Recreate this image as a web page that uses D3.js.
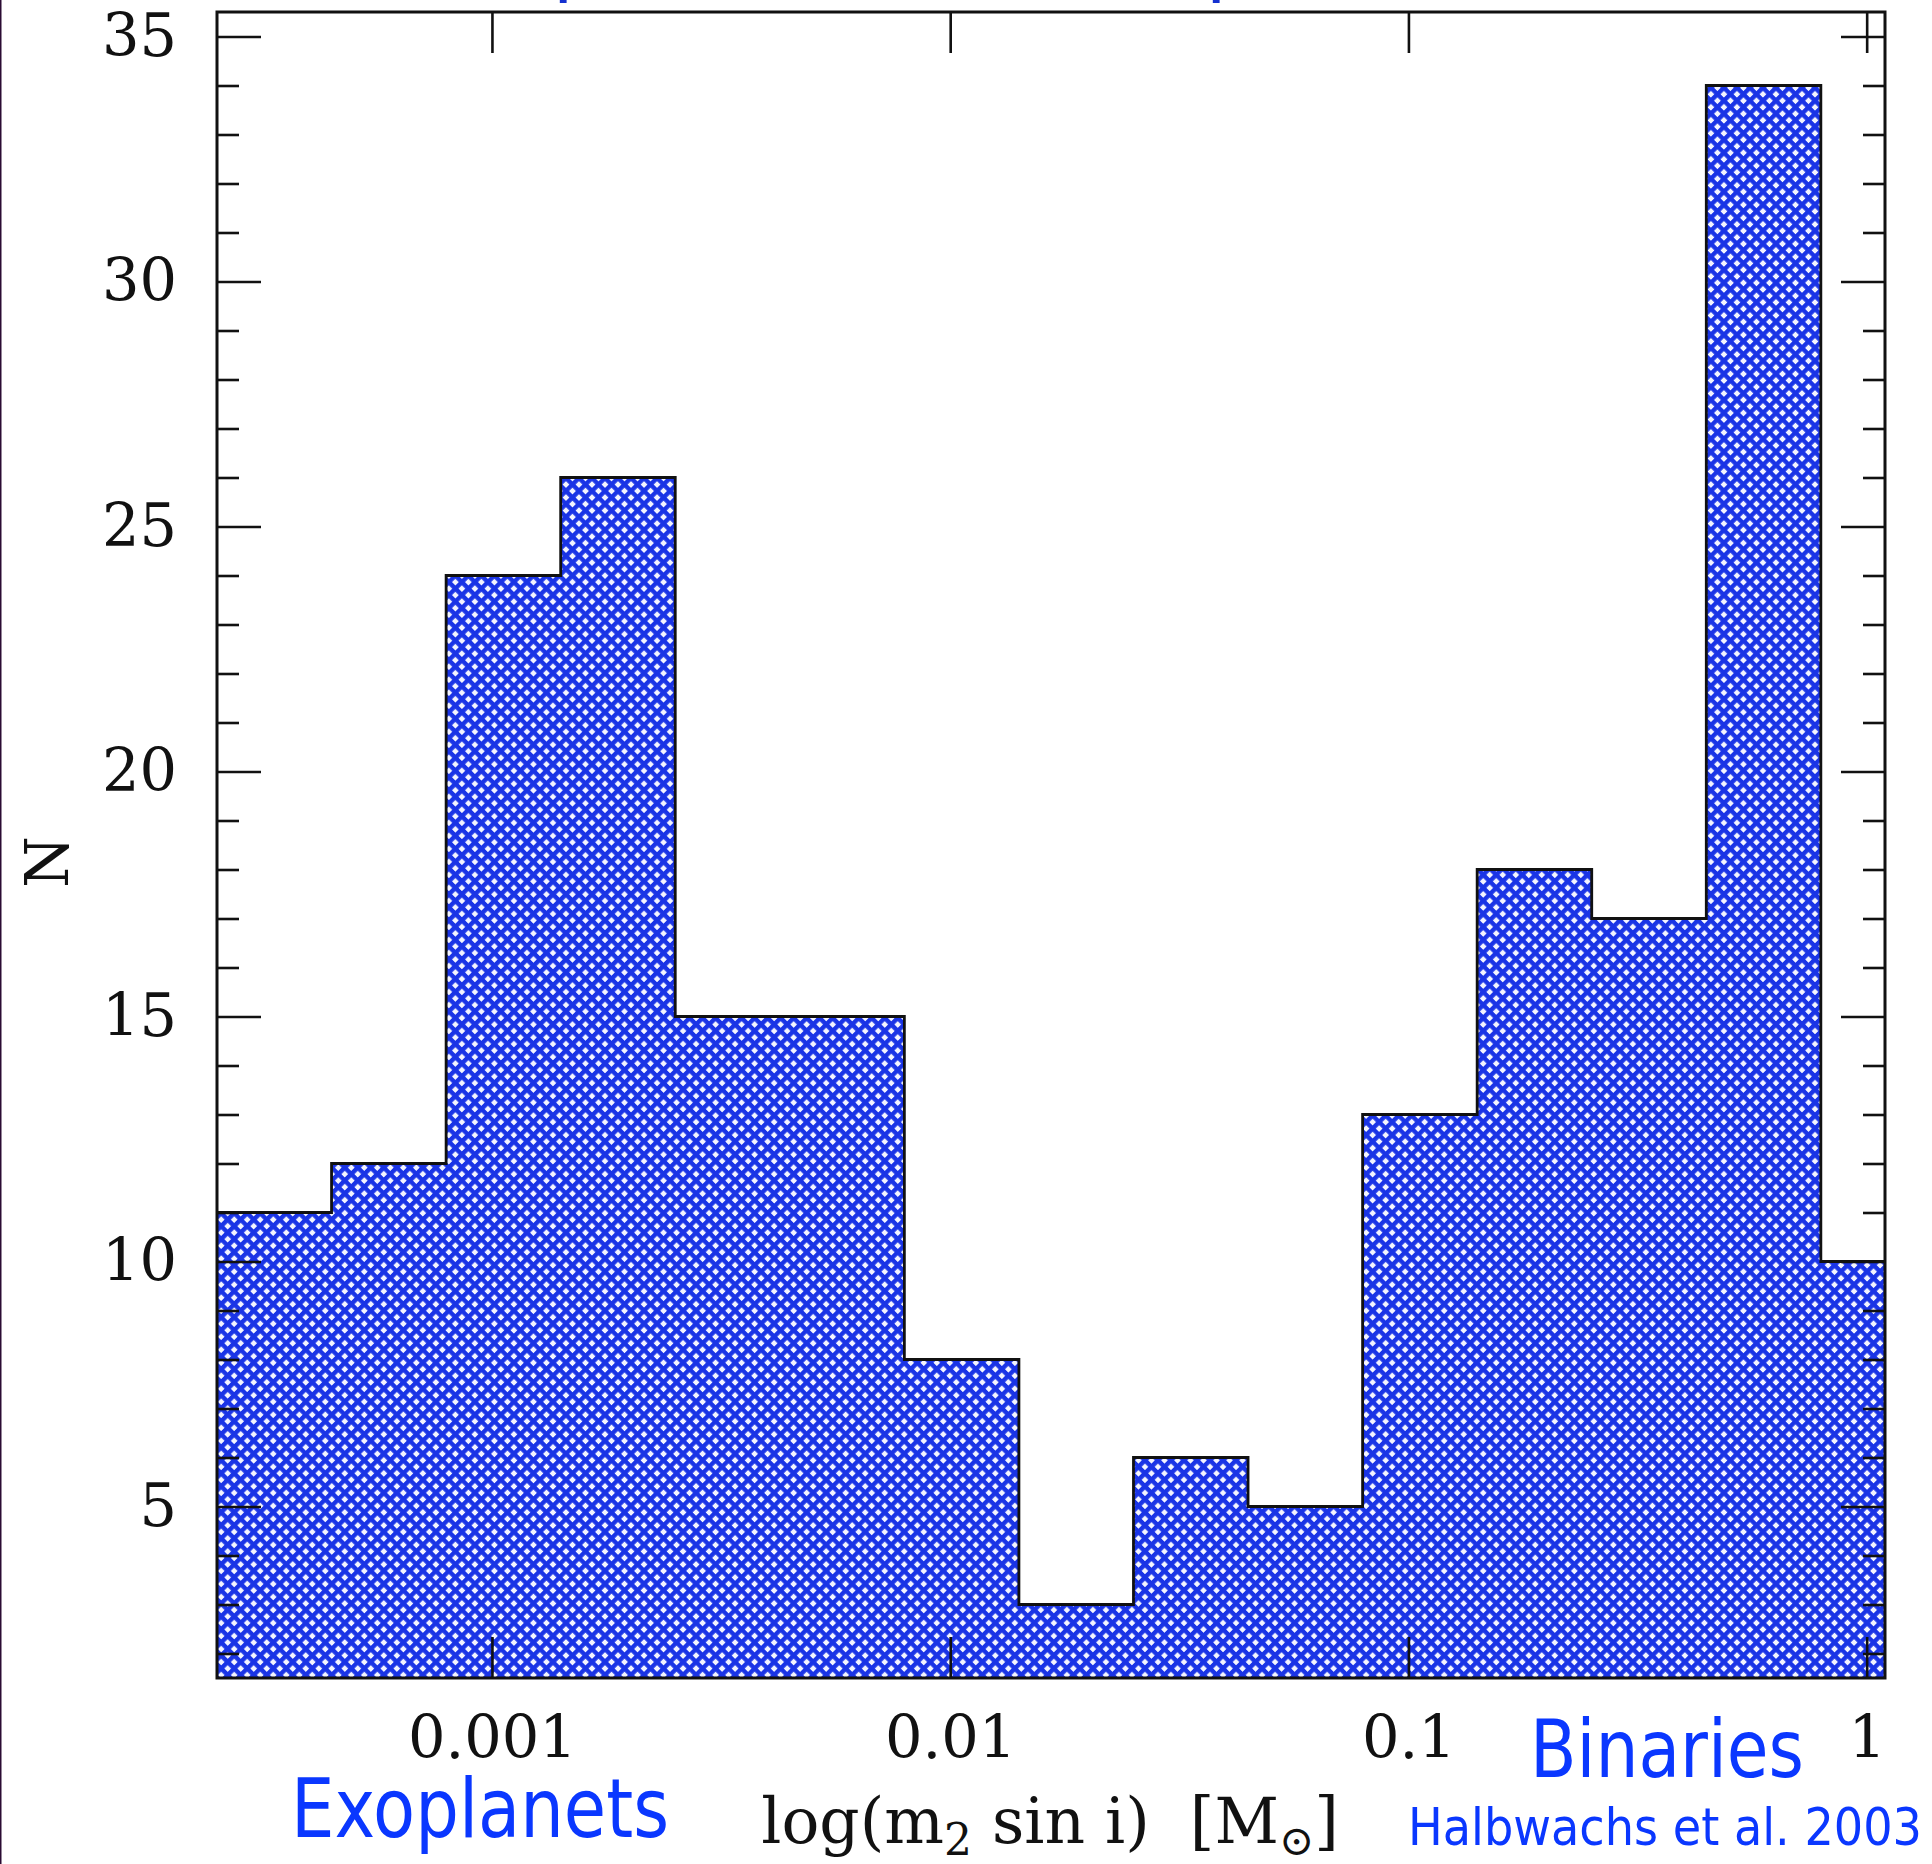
<!DOCTYPE html>
<html><head><meta charset="utf-8">
<script src="https://cdn.jsdelivr.net/npm/d3@7"></script>
<style>html,body{margin:0;padding:0;background:#fff;overflow:hidden}</style>
</head><body>
<script>
// ---- data ----
const logEdges = [-3.6, -3.35, -3.1, -2.85, -2.6, -2.35, -2.1, -1.85, -1.6, -1.35, -1.1, -0.85, -0.6, -0.35, -0.1, 0.15];
const counts   = [11, 12, 24, 26, 15, 15, 8, 3, 6, 5, 13, 18, 17, 34, 10];
const xTickValues = [0.001, 0.01, 0.1, 1];
const xTickLabels = ["0.001", "0.01", "0.1", "1"];
const yMajorTicks = [5, 10, 15, 20, 25, 30, 35];
const yMinorTicks = [2, 3, 4, 6, 7, 8, 9, 11, 12, 13, 14, 16, 17, 18, 19, 21, 22, 23, 24, 26, 27, 28, 29, 31, 32, 33, 34];
const xDomainLog = [-3.6, 0.04];
const yDomain = [1.5, 35.5];
const xTitle = ["log(m", "2", " sin i)  [M", "⊙", "]"];
const yTitle = "N";
const leftLabel = "Exoplanets";
const rightLabel = "Binaries";
const credit = "Halbwachs et al. 2003";

// ---- layout ----
const W = 1932, H = 1864;
const L = 217, R = 1885, T = 12, B = 1678;
const svg = d3.select("body").append("svg").attr("width", W).attr("height", H)
  .style("display", "block");

const x = d3.scaleLog().domain(xDomainLog.map(v => Math.pow(10, v))).range([L, R]);
const y = d3.scaleLinear().domain(yDomain).range([B, T]);

const defs = svg.append("defs");
const s = 9.2, lw = 4.4, blue = "#1a34e6";
const pat = defs.append("pattern").attr("id", "hatch")
  .attr("patternUnits", "userSpaceOnUse").attr("width", s).attr("height", s)
  .attr("patternTransform", "rotate(45)");
pat.append("rect").attr("width", s).attr("height", s).attr("fill", "#f3f4ff");
pat.append("rect").attr("width", s).attr("height", lw).attr("fill", blue);
pat.append("rect").attr("width", lw).attr("height", s).attr("fill", blue);
defs.append("clipPath").attr("id", "plotclip").append("rect")
  .attr("x", L).attr("y", T).attr("width", R - L).attr("height", B - T);

// left slide border
svg.append("rect").attr("x", 0).attr("y", 0).attr("width", 1.5).attr("height", H).attr("fill", "#2b0b33");

// histogram
const pts = [];
counts.forEach((c, i) => { pts.push([logEdges[i], c]); pts.push([logEdges[i + 1], c]); });
const g = svg.append("g").attr("clip-path", "url(#plotclip)");
g.append("path").datum(pts)
  .attr("d", d3.area().x(d => x(Math.pow(10, d[0]))).y0(B).y1(d => y(d[1])))
  .attr("fill", "url(#hatch)");
g.append("path").datum(pts)
  .attr("d", d3.line().x(d => x(Math.pow(10, d[0]))).y(d => y(d[1])))
  .attr("fill", "none").attr("stroke", "#111").attr("stroke-width", 2.8);

// axes
const serif = "'DejaVu Serif', serif";
function styleAxis(sel) {
  sel.select(".domain").remove();
  sel.selectAll("line").attr("stroke", "#111").attr("stroke-width", 2.6);
  sel.selectAll("text").attr("font-family", serif).attr("font-size", 59).attr("fill", "#111");
  sel.attr("font-family", null).attr("font-size", null);
}
svg.append("g").attr("transform", `translate(${L},0)`)
  .call(d3.axisLeft(y).tickValues(yMajorTicks).tickSize(-44).tickPadding(40).tickFormat(d3.format("d")))
  .call(styleAxis);
svg.append("g").attr("transform", `translate(${L},0)`)
  .call(d3.axisLeft(y).tickValues(yMinorTicks).tickSize(-22).tickFormat(""))
  .call(styleAxis);
svg.append("g").attr("transform", `translate(${R},0)`)
  .call(d3.axisRight(y).tickValues(yMajorTicks).tickSize(-44).tickFormat(""))
  .call(styleAxis);
svg.append("g").attr("transform", `translate(${R},0)`)
  .call(d3.axisRight(y).tickValues(yMinorTicks).tickSize(-22).tickFormat(""))
  .call(styleAxis);
svg.append("g").attr("transform", `translate(0,${B})`)
  .call(d3.axisBottom(x).tickValues(xTickValues).tickSize(-41).tickPadding(38)
    .tickFormat((d, i) => xTickLabels[i]))
  .call(styleAxis);
svg.append("g").attr("transform", `translate(0,${T})`)
  .call(d3.axisTop(x).tickValues(xTickValues).tickSize(-41).tickFormat(""))
  .call(styleAxis);

// frame
svg.append("rect").attr("x", L).attr("y", T).attr("width", R - L).attr("height", B - T)
  .attr("fill", "none").attr("stroke", "#111").attr("stroke-width", 3);

// axis titles
const xt = svg.append("text").attr("x", 1050).attr("y", 1843)
  .attr("text-anchor", "middle").attr("font-family", serif).attr("font-size", 63).attr("fill", "#111")
  .attr("xml:space", "preserve").style("white-space", "pre");
xt.append("tspan").text(xTitle[0]);
xt.append("tspan").attr("font-size", 44).attr("dy", 12).text(xTitle[1]);
xt.append("tspan").attr("dy", -12).text(xTitle[2]);
xt.append("tspan").attr("font-size", 42).attr("dy", 12).text(xTitle[3]);
xt.append("tspan").attr("dy", -12).text(xTitle[4]);

svg.append("text").attr("transform", "translate(68,862) rotate(-90)")
  .attr("text-anchor", "middle").attr("font-family", serif).attr("font-size", 59).attr("fill", "#111")
  .text(yTitle);

// blue annotations
const sans = "'DejaVu Sans', Verdana, sans-serif";
const bl = "#0a37ff";
svg.append("text").attr("x", 291).attr("y", 1837).attr("font-family", sans).attr("font-size", 82)
  .attr("fill", bl).attr("textLength", 378).attr("lengthAdjust", "spacingAndGlyphs").text(leftLabel);
svg.append("text").attr("x", 1530).attr("y", 1777).attr("font-family", sans).attr("font-size", 80)
  .attr("fill", bl).attr("textLength", 274).attr("lengthAdjust", "spacingAndGlyphs").text(rightLabel);
svg.append("text").attr("x", 1408).attr("y", 1845).attr("font-family", sans).attr("font-size", 52)
  .attr("fill", bl).attr("textLength", 514).attr("lengthAdjust", "spacingAndGlyphs").text(credit);
// cut-off title fragments at the very top
svg.append("text").attr("x", 553).attr("y", -13).attr("font-family", sans).attr("font-size", 75)
  .attr("fill", "#1430d0").text("p");
svg.append("text").attr("x", 1206).attr("y", -13).attr("font-family", sans).attr("font-size", 75)
  .attr("fill", "#1430d0").text("p");
</script>
</body></html>
